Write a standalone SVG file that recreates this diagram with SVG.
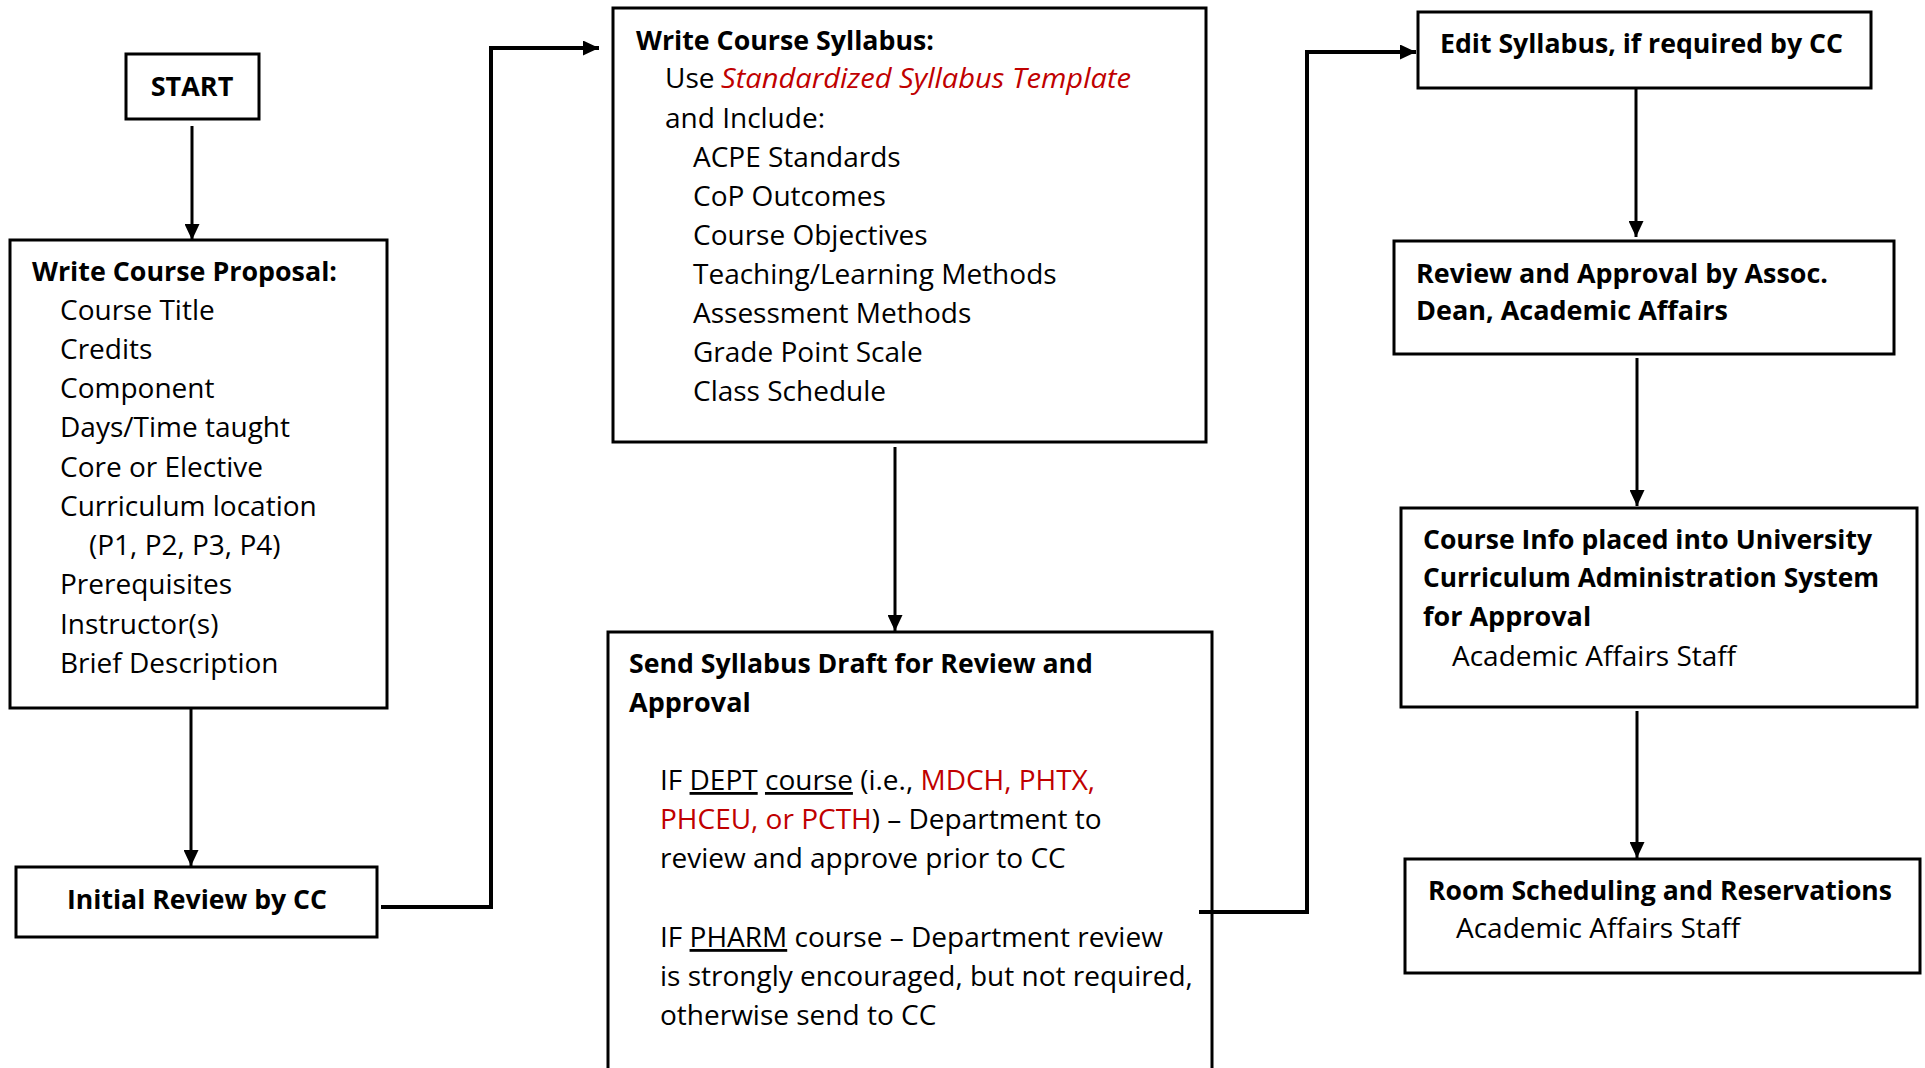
<svg xmlns="http://www.w3.org/2000/svg" width="1925" height="1068" viewBox="0 0 1925 1068">
<style>
.box{fill:#fff;stroke:#000;stroke-width:3}
.t{font-family:"Open Sans","Liberation Sans",sans-serif;font-size:28px;fill:#000}
.b{font-family:"Open Sans","Liberation Sans",sans-serif;font-size:27px;font-weight:bold;fill:#000}
.red{fill:#C00000}
.u{text-decoration:underline}
.c{fill:none;stroke:#000;stroke-width:3}
.ct{fill:none;stroke:#000;stroke-width:4}
</style>
<defs>
<marker id="ah" markerUnits="userSpaceOnUse" markerWidth="17" markerHeight="15" refX="16" refY="7.5" orient="auto">
<path d="M0,0 L16,7.5 L0,15 z" fill="#000"/>
</marker>
</defs>
<rect width="1925" height="1068" fill="#fff"/>
<g id="start">
<rect class="box" x="126" y="54" width="133" height="65"/>
<text class="b" x="192" y="96" text-anchor="middle">START</text>
</g>
<g id="proposal">
<rect class="box" x="10" y="240" width="377" height="468"/>
<text class="b" x="32" y="281" textLength="305" lengthAdjust="spacingAndGlyphs">Write Course Proposal:</text>
<text class="t" x="60" y="320">Course Title</text>
<text class="t" x="60" y="359">Credits</text>
<text class="t" x="60" y="398">Component</text>
<text class="t" x="60" y="437">Days/Time taught</text>
<text class="t" x="60" y="477">Core or Elective</text>
<text class="t" x="60" y="516">Curriculum location</text>
<text class="t" x="89" y="555">(P1, P2, P3, P4)</text>
<text class="t" x="60" y="594">Prerequisites</text>
<text class="t" x="60" y="634">Instructor(s)</text>
<text class="t" x="60" y="673">Brief Description</text>
</g>
<g id="initial">
<rect class="box" x="16" y="867" width="361" height="70"/>
<text class="b" x="67" y="909" textLength="260" lengthAdjust="spacingAndGlyphs">Initial Review by CC</text>
</g>
<g id="syllabus">
<rect class="box" x="613" y="8" width="593" height="434"/>
<text class="b" x="636" y="50" textLength="298" lengthAdjust="spacingAndGlyphs">Write Course Syllabus:</text>
<text class="t" x="665" y="88">Use</text>
<text class="t red" x="721" y="88" font-style="italic" textLength="410" lengthAdjust="spacingAndGlyphs">Standardized Syllabus Template</text>
<text class="t" x="665" y="128">and Include:</text>
<text class="t" x="693" y="167">ACPE Standards</text>
<text class="t" x="693" y="206">CoP Outcomes</text>
<text class="t" x="693" y="245">Course Objectives</text>
<text class="t" x="693" y="284">Teaching/Learning Methods</text>
<text class="t" x="693" y="323">Assessment Methods</text>
<text class="t" x="693" y="362">Grade Point Scale</text>
<text class="t" x="693" y="401">Class Schedule</text>
</g>
<g id="send">
<rect class="box" x="608" y="632" width="604" height="460"/>
<text class="b" x="629" y="673" textLength="464" lengthAdjust="spacingAndGlyphs">Send Syllabus Draft for Review and</text>
<text class="b" x="629" y="712">Approval</text>
<text class="t" x="660" y="790">IF <tspan class="u">DEPT</tspan> <tspan class="u">course</tspan> (i.e., <tspan class="red">MDCH, PHTX,</tspan></text>
<text class="t" x="660" y="829"><tspan class="red">PHCEU, or PCTH</tspan>) – Department to</text>
<text class="t" x="660" y="868">review and approve prior to CC</text>
<text class="t" x="660" y="947">IF <tspan class="u">PHARM</tspan> course – Department review</text>
<text class="t" x="660" y="986">is strongly encouraged, but not required,</text>
<text class="t" x="660" y="1025">otherwise send to CC</text>
</g>
<g id="edit">
<rect class="box" x="1418" y="12" width="453" height="76"/>
<text class="b" x="1440" y="53" textLength="403" lengthAdjust="spacingAndGlyphs">Edit Syllabus, if required by CC</text>
</g>
<g id="review">
<rect class="box" x="1394" y="241" width="500" height="113"/>
<text class="b" x="1416" y="283" textLength="412" lengthAdjust="spacingAndGlyphs">Review and Approval by Assoc.</text>
<text class="b" x="1416" y="320">Dean, Academic Affairs</text>
</g>
<g id="courseinfo">
<rect class="box" x="1401" y="508" width="516" height="199"/>
<text class="b" x="1423" y="549" textLength="449" lengthAdjust="spacingAndGlyphs">Course Info placed into University</text>
<text class="b" x="1423" y="587" textLength="456" lengthAdjust="spacingAndGlyphs">Curriculum Administration System</text>
<text class="b" x="1423" y="626">for Approval</text>
<text class="t" x="1452" y="666">Academic Affairs Staff</text>
</g>
<g id="room">
<rect class="box" x="1405" y="859" width="515" height="114"/>
<text class="b" x="1428" y="900" textLength="464" lengthAdjust="spacingAndGlyphs">Room Scheduling and Reservations</text>
<text class="t" x="1456" y="938">Academic Affairs Staff</text>
</g>
<g id="connectors">
<path class="c" d="M192,126 V240" marker-end="url(#ah)"/>
<path class="c" d="M191,708 V866" marker-end="url(#ah)"/>
<path class="ct" d="M381,907 H491 V48 H599" marker-end="url(#ah)"/>
<path class="c" d="M895,447 V631" marker-end="url(#ah)"/>
<path class="ct" d="M1199,912 H1307 V52 H1416" marker-end="url(#ah)"/>
<path class="c" d="M1636,89 V237" marker-end="url(#ah)"/>
<path class="c" d="M1637,358 V506" marker-end="url(#ah)"/>
<path class="c" d="M1637,711 V858" marker-end="url(#ah)"/>
</g>
</svg>
